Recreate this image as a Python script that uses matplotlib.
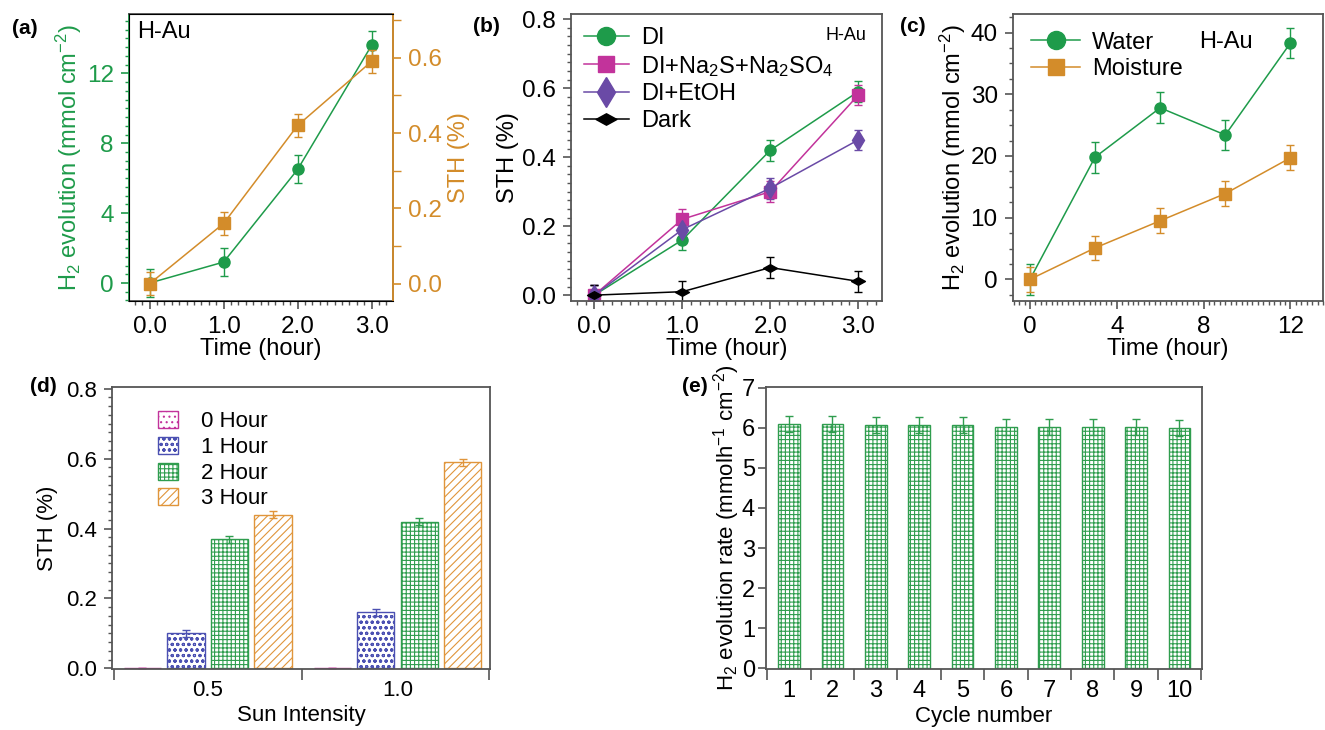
import matplotlib.pyplot as plt
from matplotlib.ticker import MultipleLocator
from matplotlib.patches import Patch
from matplotlib.lines import Line2D
from matplotlib.path import Path

plt.rcParams['font.family'] = ['Liberation Sans', 'DejaVu Sans']
plt.rcParams['mathtext.default'] = 'regular'
plt.rcParams['hatch.linewidth'] = 0.8

GREEN = '#1e9b4a'
ORANGE = '#d38c2a'
MAGENTA = '#c2339b'
PURPLE = '#6a4aa6'
BLUE = '#4b50b2'
BAR_GREEN = '#2f9d4e'
BAR_ORANGE = '#e0953b'
SPINE = '#555555'

# ---- data
time_a = [0.0, 1.0, 2.0, 3.0]
h2_a = [0.0, 1.2, 6.5, 13.6]
h2_a_err = [0.8, 0.8, 0.8, 0.8]
sth_a = [0.0, 0.16, 0.42, 0.59]
sth_a_err = [0.03, 0.03, 0.03, 0.03]

time_b = [0.0, 1.0, 2.0, 3.0]
sth_di = [0.0, 0.16, 0.42, 0.59]
sth_na = [0.0, 0.22, 0.30, 0.58]
sth_etoh = [0.0, 0.19, 0.31, 0.45]
sth_dark = [0.0, 0.01, 0.08, 0.04]
sth_b_err = [0.03, 0.03, 0.03, 0.03]

time_c = [0, 3, 6, 9, 12]
h2_water = [0.0, 19.8, 27.8, 23.4, 38.3]
h2_water_err = [2.5, 2.5, 2.5, 2.5, 2.5]
h2_moist = [0.0, 5.1, 9.5, 13.9, 19.7]
h2_moist_err = [2.0, 2.0, 2.0, 2.0, 2.0]

sun = ['0.5', '1.0']
hours = ['0 Hour', '1 Hour', '2 Hour', '3 Hour']
sth_d = [[0.002, 0.002], [0.10, 0.16], [0.37, 0.42], [0.44, 0.59]]
sth_d_err = [[0.0, 0.0], [0.01, 0.01], [0.01, 0.01], [0.01, 0.01]]

cycles = [1, 2, 3, 4, 5, 6, 7, 8, 9, 10]
rate_e = [6.10, 6.10, 6.07, 6.07, 6.06, 6.03, 6.03, 6.02, 6.02, 6.00]
rate_e_err = [0.2, 0.2, 0.2, 0.2, 0.2, 0.2, 0.2, 0.2, 0.2, 0.2]

fig = plt.figure(figsize=(13.25, 7.3), dpi=100)
W, H = 1325.0, 730.0
FS = 17.5
LFS = 17


def box(l, t, r, b):
    return [l / W, 1 - b / H, (r - l) / W, (b - t) / H]


def style(ax, fs=FS):
    for s in ax.spines.values():
        s.set_color(SPINE)
        s.set_linewidth(1.3)
    ax.tick_params(which='both', direction='out', labelsize=fs, color=SPINE)
    ax.tick_params(which='major', length=6, width=1.2, pad=5)
    ax.tick_params(which='minor', length=3, width=1.0)
    ax.tick_params(axis='y', which='both', right=False)
    ax.tick_params(axis='x', which='both', top=False)


eb = dict(capsize=3, elinewidth=1, capthick=1, lw=1.1)


def handle(color, marker, ms):
    return Line2D([], [], color=color, marker=marker, ms=ms, lw=1.1)


# ---- (a)
ax = fig.add_axes(box(129, 14, 393, 301))
style(ax)
ax.errorbar(time_a, h2_a, yerr=h2_a_err, color=GREEN, marker='o', ms=8, ecolor=GREEN, **eb)
ax.set_xlim(-0.28, 3.29)
ax.set_ylim(-1.03, 15.4)
ax.set_xticks([0, 1, 2, 3])
ax.set_xticklabels(['0.0', '1.0', '2.0', '3.0'])
ax.xaxis.set_minor_locator(MultipleLocator(0.1))
ax.set_yticks([0, 4, 8, 12])
ax.yaxis.set_minor_locator(MultipleLocator(0.5))
ax.tick_params(axis='y', which='both', colors=GREEN)
ax.spines['left'].set_color(GREEN)
ax.set_xlabel('Time (hour)', fontsize=LFS, labelpad=0)
ax.set_ylabel('H$_2$ evolution (mmol cm$^{-2}$)', fontsize=LFS, color=GREEN, labelpad=2)
ax.text(0.03, 0.975, 'H-Au', transform=ax.transAxes, fontsize=LFS, va='top')
ax2 = ax.twinx()
ax2.errorbar(time_a, sth_a, yerr=sth_a_err, color=ORANGE, marker='s', ms=8, ecolor=ORANGE, **eb)
ax2.set_ylim(-0.046, 0.716)
ax2.set_yticks([0.0, 0.2, 0.4, 0.6])
ax2.set_yticklabels(['0.0', '0.2', '0.4', '0.6'])
ax2.yaxis.set_minor_locator(MultipleLocator(0.1))
ax2.tick_params(axis='y', which='both', direction='out', colors=ORANGE, labelsize=FS, pad=5)
ax2.tick_params(which='major', length=6, width=1.2)
ax2.tick_params(which='minor', length=6, width=1.0)
ax2.spines['right'].set_color(ORANGE)
ax2.spines['right'].set_linewidth(1.3)
ax2.set_ylabel('STH (%)', fontsize=LFS, color=ORANGE)
fig.text(12 / W, 1 - 28 / H, '(a)', fontsize=15, fontweight='bold', va='center')

# ---- (b)
ax = fig.add_axes(box(571, 14, 882, 301))
style(ax)
dark_marker = Path([(-1, 0), (0, 0.55), (1, 0), (0, -0.55), (-1, 0)],
                   [Path.MOVETO, Path.LINETO, Path.LINETO, Path.LINETO, Path.CLOSEPOLY])
ax.errorbar(time_b, sth_di, yerr=sth_b_err, color=GREEN, marker='o', ms=8, **eb)
ax.errorbar(time_b, sth_na, yerr=sth_b_err, color=MAGENTA, marker='s', ms=8, **eb)
ax.errorbar(time_b, sth_etoh, yerr=sth_b_err, color=PURPLE, marker='d', ms=10, **eb)
ax.errorbar(time_b, sth_dark, yerr=sth_b_err, color='black', marker=dark_marker, ms=10, **eb)
ax.set_xlim(-0.265, 3.27)
ax.set_ylim(-0.017, 0.815)
ax.set_xticks([0, 1, 2, 3])
ax.set_xticklabels(['0.0', '1.0', '2.0', '3.0'])
ax.xaxis.set_minor_locator(MultipleLocator(0.1))
ax.set_yticks([0.0, 0.2, 0.4, 0.6, 0.8])
ax.set_yticklabels(['0.0', '0.2', '0.4', '0.6', '0.8'])
ax.yaxis.set_minor_locator(MultipleLocator(0.025))
ax.set_xlabel('Time (hour)', fontsize=LFS, labelpad=0)
ax.set_ylabel('STH (%)', fontsize=LFS, labelpad=2)
ax.text(0.95, 0.955, 'H-Au', transform=ax.transAxes, fontsize=13, va='top', ha='right')
hb = [handle(GREEN, 'o', 13), handle(MAGENTA, 's', 12), handle(PURPLE, 'd', 15),
      handle('black', dark_marker, 15)]
lb = ['DI', 'DI+Na$_2$S+Na$_2$SO$_4$', 'DI+EtOH', 'Dark']
ax.legend(hb, lb, loc='upper left', frameon=False, fontsize=LFS, handlelength=1.9,
          borderaxespad=0.15, labelspacing=0.2, handletextpad=0.5)
fig.text(473 / W, 1 - 26 / H, '(b)', fontsize=15, fontweight='bold', va='center')

# ---- (c)
ax = fig.add_axes(box(1013, 14, 1323, 301))
style(ax)
ax.errorbar(time_c, h2_water, yerr=h2_water_err, color=GREEN, marker='o', ms=8, **eb)
ax.errorbar(time_c, h2_moist, yerr=h2_moist_err, color=ORANGE, marker='s', ms=8, **eb)
ax.set_xlim(-0.78, 13.5)
ax.set_ylim(-3.5, 43.0)
ax.set_xticks([0, 4, 8, 12])
ax.xaxis.set_minor_locator(MultipleLocator(0.25))
ax.set_yticks([0, 10, 20, 30, 40])
ax.yaxis.set_minor_locator(MultipleLocator(2.5))
ax.set_xlabel('Time (hour)', fontsize=LFS, labelpad=0)
ax.set_ylabel('H$_2$ evolution (mmol cm$^{-2}$)', fontsize=LFS, labelpad=2)
ax.text(0.60, 0.94, 'H-Au', transform=ax.transAxes, fontsize=LFS, va='top')
hc = [handle(GREEN, 'o', 13), handle(ORANGE, 's', 12)]
ax.legend(hc, ['Water', 'Moisture'], loc='upper left', frameon=False, fontsize=LFS,
          handlelength=2.1, borderaxespad=0.35, labelspacing=0.2, handletextpad=0.5)
fig.text(900 / W, 1 - 26 / H, '(c)', fontsize=15, fontweight='bold', va='center')

# ---- (d)
BFS = 16
ax = fig.add_axes(box(112, 387, 490, 669))
style(ax, BFS)
bar_colors = [MAGENTA, BLUE, BAR_GREEN, BAR_ORANGE]
hatches = ['...', 'ooo', '++++', '////']
bw = 0.197
step = 0.229
for i in range(4):
    xs = [g + (i - 1.5) * step for g in range(len(sun))]
    ax.bar(xs, sth_d[i], width=bw, facecolor='white', edgecolor=bar_colors[i],
           hatch=hatches[i], lw=1.0)
    ax.errorbar(xs, sth_d[i], yerr=sth_d_err[i], fmt='none', ecolor=bar_colors[i],
                capsize=3, elinewidth=1, capthick=1)
ax.set_xlim(-0.503, 1.487)
ax.set_ylim(-0.002, 0.805)
ax.set_xticks([0, 1])
ax.set_xticklabels(sun)
ax.set_xticks([-0.49, 0.496, 1.48], minor=True)
ax.tick_params(axis='x', which='major', length=0, pad=8)
ax.tick_params(axis='x', which='minor', length=8, width=1.2)
ax.set_yticks([0.0, 0.2, 0.4, 0.6, 0.8])
ax.set_yticklabels(['0.0', '0.2', '0.4', '0.6', '0.8'])
ax.yaxis.set_minor_locator(MultipleLocator(0.025))
ax.set_xlabel('Sun Intensity', fontsize=BFS, labelpad=3)
ax.set_ylabel('STH (%)', fontsize=BFS, labelpad=6)
handles = [Patch(facecolor='white', edgecolor=bar_colors[i], hatch=hatches[i], label=hours[i])
           for i in range(4)]
ax.legend(handles=handles, loc='upper left', bbox_to_anchor=(0.07, 0.985), frameon=False,
          fontsize=BFS, handlelength=0.9, handleheight=0.8,
          labelspacing=0.2, handletextpad=1.0)
fig.text(30 / W, 1 - 386 / H, '(d)', fontsize=15, fontweight='bold', va='center')

# ---- (e)
ax = fig.add_axes(box(766, 387, 1202, 669))
style(ax, BFS)
ax.bar(cycles, rate_e, width=0.5, facecolor='white', edgecolor=BAR_GREEN, hatch='++++', lw=1.0)
ax.errorbar(cycles, rate_e, yerr=rate_e_err, fmt='none', ecolor=BAR_GREEN,
            capsize=3, elinewidth=1, capthick=1)
ax.set_xlim(0.47, 10.52)
ax.set_ylim(-0.02, 7.02)
ax.set_xticks(cycles)
ax.set_xticklabels([str(c) for c in cycles])
ax.set_xticks([c - 0.5 for c in cycles] + [10.5], minor=True)
ax.tick_params(axis='x', which='major', length=0, pad=8)
ax.tick_params(axis='x', which='minor', length=8, width=1.2)
ax.set_yticks([0, 1, 2, 3, 4, 5, 6, 7])
ax.tick_params(axis='y', which='minor', length=0)
ax.tick_params(axis='y', which='major', pad=2)
ax.tick_params(axis='both', labelsize=17)
ax.set_xlabel('Cycle number', fontsize=BFS, labelpad=3)
ax.set_ylabel('H$_2$ evolution rate (mmolh$^{-1}$ cm$^{-2}$)', fontsize=BFS, labelpad=0)
fig.text(682 / W, 1 - 386 / H, '(e)', fontsize=15, fontweight='bold', va='center')

fig.savefig('out.png', dpi=100)
